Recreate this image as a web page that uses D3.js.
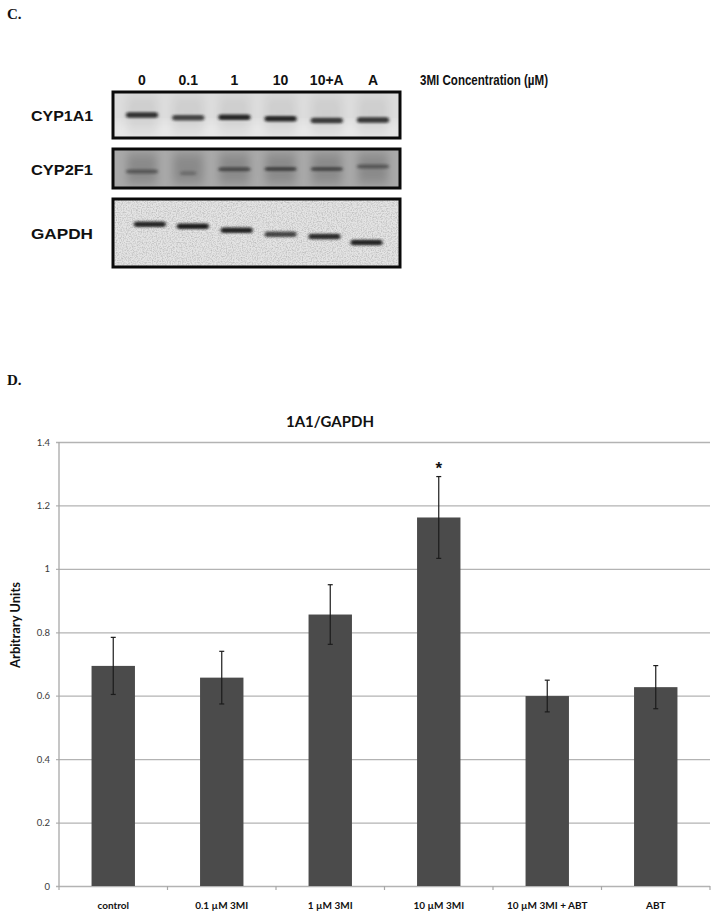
<!DOCTYPE html>
<html>
<head>
<meta charset="utf-8">
<script src="https://cdnjs.cloudflare.com/ajax/libs/d3/7.8.5/d3.min.js"></script>
<style>
  html, body { margin: 0; padding: 0; background: #fff; }
  svg { display: block; }
  .blot-text { font-family: "Liberation Sans", Arial, sans-serif; font-weight: bold; fill: #111; }
  .panel { font-family: "Liberation Serif", "Times New Roman", serif; font-weight: bold; font-size: 15px; fill: #111; }
  .chart-text { font-family: Lato, "Open Sans", sans-serif; }
</style>
</head>
<body>
<svg id="fig" width="720" height="916"></svg>
<script>
// Panel C: western blot lanes and rows
const lanes = ["0", "0.1", "1", "10", "10+A", "A"];
const blotRows = ["CYP1A1", "CYP2F1", "GAPDH"];
// band migration (0 = top of strip, 1 = bottom) and darkness per lane
const cyp1a1Pos = [0.50, 0.56, 0.55, 0.58, 0.62, 0.61];
const cyp1a1Dark = [0.85, 0.75, 0.90, 0.90, 0.80, 0.82];
const cyp2f1Pos = [0.58, 0.62, 0.52, 0.51, 0.51, 0.45];
const cyp2f1Dark = [0.45, 0.25, 0.55, 0.60, 0.55, 0.45];
const gapdhPos = [0.37, 0.40, 0.46, 0.52, 0.55, 0.64];
const gapdhDark = [0.90, 0.95, 0.92, 0.75, 0.88, 0.92];
const gapdhSmile = [0.17, 0.10, 0.05, 0.0, -0.05, -0.14];   // lateral drift, lane units

// Panel D: bar chart
const categories = ["control", "0.1 \u00b5M 3MI", "1 \u00b5M 3MI", "10 \u00b5M 3MI", "10 \u00b5M 3MI + ABT", "ABT"];
const means = [0.694, 0.657, 0.856, 1.162, 0.599, 0.627];
const errors = [0.090, 0.083, 0.094, 0.129, 0.050, 0.068];
const significant = [false, false, false, true, false, false];
const yTicks = [0, 0.2, 0.4, 0.6, 0.8, 1, 1.2, 1.4];

const svg = d3.select("#fig");
const defs = svg.append("defs");

// soft edges for bands
defs.append("filter").attr("id", "blurBand").attr("x", "-20%").attr("y", "-100%").attr("width", "140%").attr("height", "300%")
  .append("feGaussianBlur").attr("stdDeviation", "1.6 1.1");
defs.append("filter").attr("id", "blurSmear").attr("x", "-50%").attr("y", "-20%").attr("width", "200%").attr("height", "140%")
  .append("feGaussianBlur").attr("stdDeviation", "4 6");
// grain for the GAPDH film
const grain = defs.append("filter").attr("id", "grain").attr("x", 0).attr("y", 0).attr("width", "100%").attr("height", "100%");
grain.append("feTurbulence").attr("type", "fractalNoise").attr("baseFrequency", 0.8).attr("numOctaves", 2).attr("seed", 7).attr("result", "n");
grain.append("feColorMatrix").attr("in", "n").attr("type", "matrix")
  .attr("values", "0 0 0 0 0  0 0 0 0 0  0 0 0 0 0  0 0 0 -2.2 1.35");

svg.append("text").attr("class", "panel").attr("x", 7).attr("y", 19).text("C.");
svg.append("text").attr("class", "panel").attr("x", 7).attr("y", 385).text("D.");

// ---------- blot ----------
const laneX = d3.scalePoint().domain(lanes).range([142, 373]);
const laneStep = laneX.step();

svg.append("g").selectAll("text").data(lanes).enter().append("text")
  .attr("class", "blot-text").attr("x", d => laneX(d)).attr("y", 85)
  .attr("text-anchor", "middle").style("font-size", "14px").text(d => d);
svg.append("text").attr("class", "blot-text").attr("x", 420).attr("y", 84.5)
  .style("font-size", "15px").attr("textLength", 128).attr("lengthAdjust", "spacingAndGlyphs")
  .text("3MI Concentration (\u00b5M)");

const strips = [
  { name: "CYP1A1", top: 92, bottom: 138, bg: "#dcdcdc", pos: cyp1a1Pos, dark: cyp1a1Dark, shift: null, smear: 0.06, band: 5.5 },
  { name: "CYP2F1", top: 149, bottom: 188, bg: "#a9a9a9", pos: cyp2f1Pos, dark: cyp2f1Dark, shift: null, smear: 0.18, band: 4 },
  { name: "GAPDH", top: 199, bottom: 267, bg: "#e4e4e4", pos: gapdhPos, dark: gapdhDark, shift: gapdhSmile, smear: 0, band: 5.5 }
];
const stripX0 = 113, stripX1 = 400;

strips.forEach((s, si) => {
  const g = svg.append("g");
  const clipId = "clip" + si;
  defs.append("clipPath").attr("id", clipId).append("rect")
    .attr("x", stripX0).attr("y", s.top).attr("width", stripX1 - stripX0).attr("height", s.bottom - s.top);
  const inner = g.append("g").attr("clip-path", `url(#${clipId})`);
  inner.append("rect").attr("x", stripX0).attr("y", s.top).attr("width", stripX1 - stripX0)
    .attr("height", s.bottom - s.top).attr("fill", s.bg);
  if (si === 0) {
    // lighter lower half on the CYP1A1 film
    inner.append("rect").attr("x", stripX0).attr("y", s.top + 30).attr("width", stripX1 - stripX0)
      .attr("height", 20).attr("fill", "#e8e8e8").attr("filter", "url(#blurSmear)");
  }
  if (si === 2) {
    inner.append("rect").attr("x", stripX0).attr("y", s.top).attr("width", stripX1 - stripX0)
      .attr("height", s.bottom - s.top).attr("fill", "#fff").attr("filter", "url(#grain)").attr("opacity", 0.16);
  }
  const yb = d3.scaleLinear().domain([0, 1]).range([s.top, s.bottom]);
  const cx = i => laneX(lanes[i]) + (s.shift ? s.shift[i] * laneStep : 0);
  if (s.smear > 0) {
    inner.selectAll("rect.smear").data(lanes).enter().append("rect").attr("class", "smear")
      .attr("x", (d, i) => cx(i) - 15).attr("y", s.top + 4).attr("width", 30).attr("height", s.bottom - s.top - 8)
      .attr("fill", "#000").attr("opacity", s.smear).attr("filter", "url(#blurSmear)");
  }
  inner.selectAll("rect.band").data(lanes).enter().append("rect").attr("class", "band")
    .attr("x", (d, i) => cx(i) - (s.name === "CYP2F1" && i === 1 ? 8 : 16))
    .attr("y", (d, i) => yb(s.pos[i]) - s.band / 2)
    .attr("width", (d, i) => (s.name === "CYP2F1" && i === 1 ? 16 : 32))
    .attr("height", s.band).attr("rx", 2.5)
    .attr("fill", "#161616").attr("opacity", (d, i) => s.dark[i])
    .attr("filter", "url(#blurBand)");
  g.append("rect").attr("x", stripX0).attr("y", s.top).attr("width", stripX1 - stripX0)
    .attr("height", s.bottom - s.top).attr("fill", "none").attr("stroke", "#0a0a0a").attr("stroke-width", 3);
  g.append("text").attr("class", "blot-text").attr("x", 31).attr("y", (s.top + s.bottom) / 2 + 6)
    .style("font-size", "15px").attr("textLength", 62).attr("lengthAdjust", "spacingAndGlyphs").text(s.name);
});

// ---------- bar chart ----------
const x = d3.scaleBand().domain(categories).range([59, 710]).paddingInner(0.6).paddingOuter(0.3);
const y = d3.scaleLinear().domain([0, 1.4]).range([886, 442]);
const chart = svg.append("g").attr("class", "chart-text");

// gridlines + y labels
const yAxis = d3.axisLeft(y).tickValues(yTicks).tickSize(-(710 - 59)).tickSizeOuter(0)
  .tickFormat(d => d3.format("~g")(d));
const ya = chart.append("g").attr("transform", "translate(59,0)").call(yAxis);
ya.select(".domain").remove();
ya.selectAll(".tick line").attr("stroke", "#b3b3b3").attr("stroke-width", 1.3).attr("x1", -3);
ya.selectAll(".tick text").attr("x", -9).attr("fill", "#3a3a3a").style("font-size", "9.5px").style("font-family", "Lato, sans-serif");

// y axis line
chart.append("line").attr("x1", 59).attr("x2", 59).attr("y1", y(1.4)).attr("y2", y(0))
  .attr("stroke", "#a8a8a8").attr("stroke-width", 1.3);

// x category ticks at band boundaries
const bounds = d3.range(categories.length + 1).map(i => x.range()[0] + i * x.step());
chart.append("g").selectAll("line").data(bounds).enter().append("line")
  .attr("x1", d => d).attr("x2", d => d).attr("y1", y(0)).attr("y2", y(0) + 4)
  .attr("stroke", "#a8a8a8").attr("stroke-width", 1.2);

// bars
chart.append("g").selectAll("rect").data(categories).enter().append("rect")
  .attr("x", d => x(d)).attr("width", x.bandwidth())
  .attr("y", (d, i) => y(means[i])).attr("height", (d, i) => y(0) - y(means[i]))
  .attr("fill", "#4b4b4b");

// error bars
const eb = chart.append("g").attr("stroke", "#1c1c1c").attr("stroke-width", 1.2);
categories.forEach((c, i) => {
  const cx = x(c) + x.bandwidth() / 2;
  const hi = y(means[i] + errors[i]), lo = y(means[i] - errors[i]);
  eb.append("line").attr("x1", cx).attr("x2", cx).attr("y1", hi).attr("y2", lo);
  eb.append("line").attr("x1", cx - 2.5).attr("x2", cx + 2.5).attr("y1", hi).attr("y2", hi);
  eb.append("line").attr("x1", cx - 2.5).attr("x2", cx + 2.5).attr("y1", lo).attr("y2", lo);
  if (significant[i]) {
    chart.append("text").attr("x", cx).attr("y", hi - 3).attr("text-anchor", "middle")
      .style("font-family", "Liberation Sans, sans-serif").style("font-weight", "bold").style("font-size", "17px")
      .attr("fill", "#111").text("*");
  }
});

// x labels
chart.append("g").selectAll("text").data(categories).enter().append("text")
  .attr("x", d => x(d) + x.bandwidth() / 2).attr("y", 909).attr("text-anchor", "middle")
  .style("font-size", "10px").style("font-weight", "bold").attr("fill", "#111").text(d => d);

// title & axis label
chart.append("text").attr("x", 330).attr("y", 427).attr("text-anchor", "middle")
  .style("font-size", "15px").style("font-weight", "bold").attr("fill", "#111").text("1A1/GAPDH");
chart.append("text").attr("transform", "translate(20,625) rotate(-90)").attr("text-anchor", "middle")
  .style("font-size", "13px").style("font-weight", "bold").attr("fill", "#111").text("Arbitrary Units");
</script>
</body>
</html>
